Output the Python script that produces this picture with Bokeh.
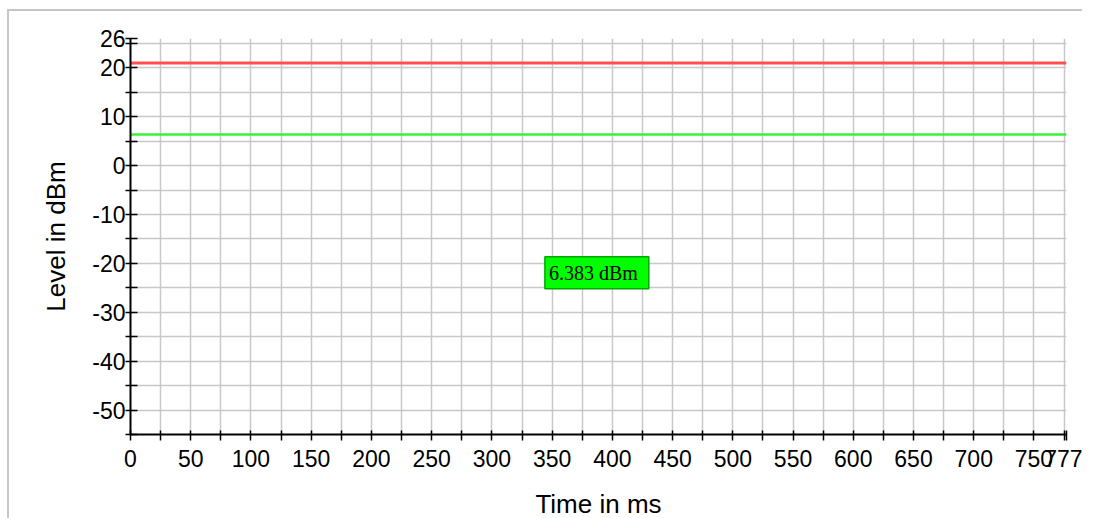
from bokeh.plotting import figure
from bokeh.models import FixedTicker, Label, Range1d
from bokeh.embed import file_html
from bokeh.resources import INLINE

# ---- data ----
time_ms = [0, 777]
upper_limit_dbm = [21.0, 21.0]
measured_dbm = [6.383, 6.383]
readout_text = "6.383 dBm"
readout_x = 344
readout_y = -25.2

x_ticks = list(range(0, 776, 25)) + [777]
x_labels = {t: (str(t) if (t % 50 == 0 or t == 777) else "") for t in x_ticks}
y_ticks = [26] + list(range(25, -56, -5))
y_labels = {t: (str(t) if (t % 10 == 0 or t == 26) else "") for t in y_ticks}

FONT = "Liberation Sans"

p = figure(width=1075, height=514, output_backend="svg", toolbar_location=None,
           x_range=Range1d(0, 777), y_range=Range1d(-55, 26),
           min_border_left=121, min_border_top=27, min_border_right=18, min_border_bottom=91,
           background_fill_color="white", border_fill_color="white",
           outline_line_color=None,
           styles={"border-left": "2px solid #c6c6c6", "border-top": "2px solid #c6c6c6",
                   "margin-top": "9px", "margin-left": "7px"})

for ax, ticks, labels in ((p.xaxis, x_ticks, x_labels), (p.yaxis, y_ticks, y_labels)):
    ax.ticker = FixedTicker(ticks=ticks)
    ax.major_label_overrides = labels
    ax.axis_line_color = "black"
    ax.axis_line_width = 2
    ax.major_tick_line_color = "black"
    ax.major_tick_line_width = 1.5
    ax.minor_tick_line_color = None
    ax.major_label_text_font = FONT
    ax.major_label_text_font_size = "23px"
    ax.major_label_text_color = "black"
    ax.axis_label_text_font = FONT
    ax.axis_label_text_font_size = "26px"
    ax.axis_label_text_font_style = "normal"
    ax.axis_label_text_color = "black"

p.xaxis.major_tick_in = 4
p.xaxis.major_tick_out = 6
p.xaxis.major_label_standoff = 9
p.xaxis.axis_label = "Time in ms"
p.xaxis.axis_label_standoff = 19

p.yaxis.major_tick_in = 7
p.yaxis.major_tick_out = 5
p.yaxis.major_label_standoff = 0
p.yaxis.axis_label = "Level in dBm"
p.yaxis.axis_label_standoff = 18

p.xgrid.ticker = FixedTicker(ticks=x_ticks)
p.ygrid.ticker = FixedTicker(ticks=y_ticks)
for g in (p.xgrid, p.ygrid):
    g.grid_line_color = "#c8c8c8"
    g.grid_line_width = 1.5

p.line(time_ms, upper_limit_dbm, line_color="#ff4f4f", line_width=3)
p.line(time_ms, measured_dbm, line_color="#3cf03c", line_width=2.5)

lab = Label(x=readout_x, y=readout_y, text=readout_text,
            text_font="Liberation Serif", text_font_size="20px", text_color="black",
            text_align="left", text_baseline="bottom",
            background_fill_color="#00ff00", border_line_color="#00a800",
            border_line_width=1.5,
            padding={"left": 4, "right": 11, "top": 5, "bottom": 5})
p.add_layout(lab)

open("out.html", "w").write(file_html(p, INLINE))
